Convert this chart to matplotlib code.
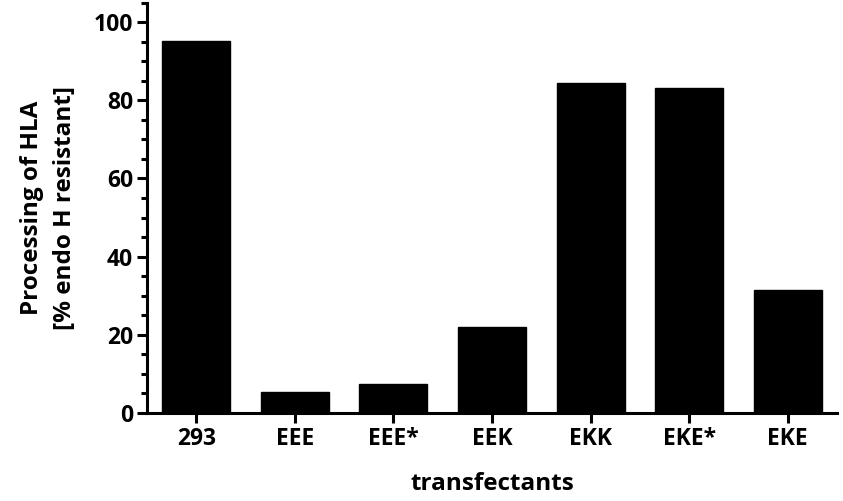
import numpy as np
import matplotlib
matplotlib.use("Agg")
import matplotlib.pyplot as plt
from matplotlib.ticker import MultipleLocator

plt.rcParams['font.family'] = ['Open Sans', 'DejaVu Sans']
plt.rcParams['font.weight'] = 'bold'

labels = ['293', 'EEE', 'EEE*', 'EEK', 'EKK', 'EKE*', 'EKE']
processing = [95.2, 5.5, 7.5, 22.0, 84.5, 83.2, 31.4]

fig = plt.figure(figsize=(8.43, 5.01), dpi=100)
ax = fig.add_axes([0.1744, 0.1756, 0.8186, 0.8194])

x = np.arange(len(labels))
ax.bar(x, processing, width=0.69, color='black', edgecolor='black')

ax.set_xlim(-0.5, 6.5)
ax.set_ylim(0, 105)
ax.yaxis.set_major_locator(MultipleLocator(20))
ax.yaxis.set_minor_locator(MultipleLocator(5))
ax.set_xticks(x)
ax.set_xticklabels(labels)

for side in ['top', 'right']:
    ax.spines[side].set_visible(False)
for side in ['left', 'bottom']:
    ax.spines[side].set_linewidth(2.2)

ax.tick_params(axis='both', which='major', width=2.2, length=7, labelsize=16.5, pad=3)
ax.tick_params(axis='y', which='minor', width=2.2, length=4)
ax.tick_params(axis='x', which='minor', bottom=False)
for lab in ax.get_xticklabels() + ax.get_yticklabels():
    lab.set_fontweight('bold')

ax.set_xlabel('transfectants', fontsize=17.5, fontweight='bold', labelpad=15)
ax.set_ylabel('Processing of HLA\n[% endo H resistant]', fontsize=17.5,
              fontweight='bold', labelpad=12, linespacing=1.5)

fig.savefig('out.png', dpi=100)
